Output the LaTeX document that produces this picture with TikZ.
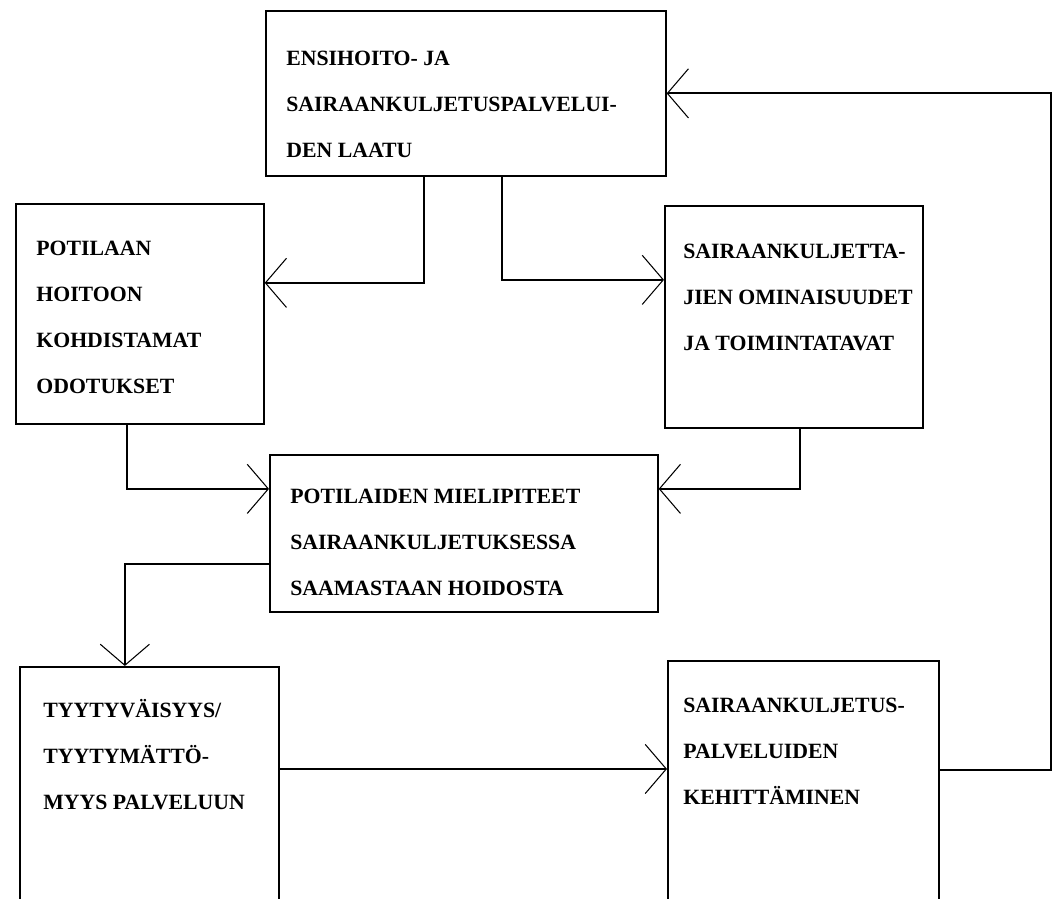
\documentclass[tikz,border=0pt]{standalone}
\usepackage{fontspec}
\setmainfont{Liberation Serif}
\usepackage{tikz}
\usetikzlibrary{arrows.meta}
\newcommand{\boxfont}{\fontsize{12.4}{26}\selectfont\bfseries}

\begin{document}
\begin{tikzpicture}[x=0.02cm,y=-0.02cm,
    box/.style={draw,line width=1pt,rectangle,anchor=north west,inner sep=0pt},
    boxtext/.style={anchor=base west,align=left,inner sep=0pt,font=\boxfont},
    >={Straight Barb[length=12pt,width=28pt,line width=0.6pt]},
    link/.style={->,line width=1pt}]
  \useasboundingbox (0,0) rectangle (1052,899);
  \clip (0,0) rectangle (1052,899);
  \node[box,minimum width=8cm,minimum height=3.3cm] (qual) at (265,10) {};
  \node[box,minimum width=4.96cm,minimum height=4.4cm] (odot) at (15,203) {};
  \node[box,minimum width=5.16cm,minimum height=4.44cm] (omin) at (664,205) {};
  \node[box,minimum width=7.76cm,minimum height=3.14cm] (miel) at (269,454) {};
  \node[box,minimum width=5.18cm,minimum height=5.08cm] (tyyt) at (19,666) {};
  \node[box,minimum width=5.42cm,minimum height=5.2cm] (kehi) at (667,660) {};
  % base anchor sits on the last line of each text
  \node[boxtext] (qual-t) at ([shift={(21,147)}]qual.north west)
    {ENSIHOITO- JA\\SAIRAANKULJETUSPALVELUI-\\DEN LAATU};
  \node[boxtext] (odot-t) at ([shift={(21,190)}]odot.north west)
    {POTILAAN\\HOITOON\\KOHDISTAMAT\\ODOTUKSET};
  \node[boxtext] (omin-t) at ([shift={(19,145)}]omin.north west)
    {SAIRAANKULJETTA-\\JIEN OMINAISUUDET\\JA TOIMINTATAVAT};
  \node[boxtext] (miel-t) at ([shift={(21,141)}]miel.north west)
    {POTILAIDEN MIELIPITEET\\SAIRAANKULJETUKSESSA\\SAAMASTAAN HOIDOSTA};
  \node[boxtext] (tyyt-t) at ([shift={(24,143)}]tyyt.north west)
    {TYYTYVÄISYYS/\\TYYTYMÄTTÖ-\\MYYS PALVELUUN};
  \node[boxtext] (kehi-t) at ([shift={(16,144)}]kehi.north west)
    {SAIRAANKULJETUS-\\PALVELUIDEN\\KEHITTÄMINEN};
  \coordinate (tk) at ([yshift=-2.06cm]tyyt.north east);
  \coordinate (kq) at ([yshift=-2.2cm]kehi.north east);
  \coordinate (edge) at (1051,0);
  \draw[link] ([xshift=-0.84cm]qual.south) |- ([yshift=0.62cm]odot.east);
  \draw[link] ([xshift=0.72cm]qual.south) |- ([yshift=0.74cm]omin.west);
  \draw[link] ([xshift=-0.26cm]odot.south) |- ([yshift=0.89cm]miel.west);
  \draw[link] ([xshift=0.12cm]omin.south) |- ([yshift=0.89cm]miel.east);
  \draw[link] ([yshift=-0.61cm]miel.west) -| ([xshift=-0.49cm]tyyt.north);
  \draw[link] (tk) -- (tk -| kehi.west);
  \draw[link] (kq) -- (kq -| edge) |- (qual.east);
\end{tikzpicture}
\end{document}
